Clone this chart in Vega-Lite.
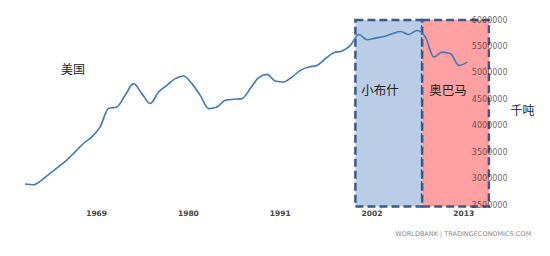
{
  "$schema": "https://vega.github.io/schema/vega-lite/v6.json",
  "width": 507,
  "height": 185,
  "autosize": {"type": "none"},
  "padding": {"left": 0, "top": 20, "right": 43, "bottom": 51},
  "background": "white",
  "title": {
    "text": "WORLDBANK | TRADINGECONOMICS.COM",
    "orient": "bottom",
    "anchor": "end",
    "fontSize": 6.5,
    "fontWeight": "normal",
    "color": "#8a8a8a",
    "font": "DejaVu Sans",
    "offset": 14,
    "dx": -3
  },
  "config": {
    "view": {"stroke": null},
    "text": {"font": "Noto Sans CJK SC"},
    "axis": {"labelOverlap": false, "labelBound": false, "labelFlush": false}
  },
  "datasets": {
    "emissions": [
      {"year": 1960, "kt": 2896000}, {"year": 1961, "kt": 2883000}, {"year": 1962, "kt": 2972000},
      {"year": 1963, "kt": 3098000}, {"year": 1964, "kt": 3223000}, {"year": 1965, "kt": 3349000},
      {"year": 1966, "kt": 3506000}, {"year": 1967, "kt": 3664000}, {"year": 1968, "kt": 3789000},
      {"year": 1969, "kt": 3977000}, {"year": 1970, "kt": 4324000}, {"year": 1971, "kt": 4355000},
      {"year": 1972, "kt": 4575000}, {"year": 1973, "kt": 4796000}, {"year": 1974, "kt": 4607000},
      {"year": 1975, "kt": 4419000}, {"year": 1976, "kt": 4638000}, {"year": 1977, "kt": 4764000},
      {"year": 1978, "kt": 4890000}, {"year": 1979, "kt": 4940000}, {"year": 1980, "kt": 4796000},
      {"year": 1981, "kt": 4575000}, {"year": 1982, "kt": 4324000}, {"year": 1983, "kt": 4355000},
      {"year": 1984, "kt": 4481000}, {"year": 1985, "kt": 4500000}, {"year": 1986, "kt": 4513000},
      {"year": 1987, "kt": 4702000}, {"year": 1988, "kt": 4909000}, {"year": 1989, "kt": 4972000},
      {"year": 1990, "kt": 4846000}, {"year": 1991, "kt": 4827000}, {"year": 1992, "kt": 4921000},
      {"year": 1993, "kt": 5047000}, {"year": 1994, "kt": 5110000}, {"year": 1995, "kt": 5141000},
      {"year": 1996, "kt": 5268000}, {"year": 1997, "kt": 5381000}, {"year": 1998, "kt": 5412000},
      {"year": 1999, "kt": 5519000}, {"year": 2000, "kt": 5726000}, {"year": 2001, "kt": 5626000},
      {"year": 2002, "kt": 5657000}, {"year": 2003, "kt": 5689000}, {"year": 2004, "kt": 5740000},
      {"year": 2005, "kt": 5783000}, {"year": 2006, "kt": 5726000}, {"year": 2007, "kt": 5802000},
      {"year": 2008, "kt": 5676000}, {"year": 2009, "kt": 5298000}, {"year": 2010, "kt": 5392000},
      {"year": 2011, "kt": 5362000}, {"year": 2012, "kt": 5141000}, {"year": 2013, "kt": 5204000}
    ],
    "terms": [
      {"president": "小布什", "start": 1999.6, "finish": 2007.6, "top": 6000000, "bottom": 2470000},
      {"president": "奥巴马", "start": 2007.6, "finish": 2015.6, "top": 6000000, "bottom": 2470000}
    ],
    "labels": [
      {"text": "美国", "year": 1965.75, "kt": 5047000, "size": 12},
      {"text": "小布什", "year": 2002.55, "kt": 4651000, "size": 12.5},
      {"text": "奥巴马", "year": 2010.7, "kt": 4651000, "size": 12.5}
    ]
  },
  "layer": [
    {
      "data": {"name": "terms"},
      "mark": {
        "type": "rect",
        "stroke": "#3b5a87",
        "strokeWidth": 2.5,
        "strokeDash": [8, 4],
        "fillOpacity": 1
      },
      "encoding": {
        "x": {
          "field": "start",
          "type": "quantitative",
          "scale": {"domain": [1957, 2017.77], "nice": false, "zero": false},
          "axis": {
            "title": null,
            "values": [1969, 1980, 1991, 2002, 2013],
            "tickCount": 20,
            "format": "d",
            "domain": false,
            "ticks": false,
            "grid": false,
            "labelPadding": 4,
            "labelOffset": -4,
            "labelOverlap": false,
            "labelFont": "DejaVu Sans",
            "labelFontSize": 7.5,
            "labelFontWeight": "bold",
            "labelColor": "#444444"
          }
        },
        "x2": {"field": "finish"},
        "y": {
          "field": "top",
          "type": "quantitative",
          "scale": {"domain": [2500000, 6000000], "nice": false, "zero": false},
          "axis": {
            "orient": "right",
            "title": "千吨",
            "titleAngle": 0,
            "titleX": 15,
            "titleY": 90,
            "titleAlign": "center",
            "titleBaseline": "middle",
            "titleFont": "Noto Sans CJK SC",
            "titleFontSize": 12,
            "titleFontWeight": "normal",
            "titleColor": "#222222",
            "values": [2500000, 3000000, 3500000, 4000000, 4500000, 5000000, 5500000, 6000000],
            "tickCount": 20,
            "format": "d",
            "domain": false,
            "ticks": false,
            "grid": false,
            "labelOverlap": false,
            "labelBound": false,
            "labelFlush": false,
            "labelAlign": "right",
            "labelBaseline": "middle",
            "labelPadding": 0,
            "labelFont": "DejaVu Sans",
            "labelFontSize": 8,
            "labelColor": "#3a2a2a",
            "labelOpacity": 0.75,
            "zindex": 1
          }
        },
        "y2": {"field": "bottom"},
        "fill": {
          "field": "president",
          "type": "nominal",
          "scale": {"domain": ["小布什", "奥巴马"], "range": ["#bacde6", "#ffa0a3"]},
          "legend": null
        }
      }
    },
    {
      "data": {"name": "emissions"},
      "mark": {"type": "line", "interpolate": "monotone", "color": "#3f7ab5", "strokeWidth": 1.6},
      "encoding": {
        "x": {"field": "year", "type": "quantitative", "title": null},
        "y": {"field": "kt", "type": "quantitative", "title": "千吨"}
      }
    },
    {
      "data": {"name": "labels"},
      "mark": {"type": "text", "align": "center", "baseline": "middle", "color": "#222222"},
      "encoding": {
        "x": {"field": "year", "type": "quantitative", "title": null},
        "y": {"field": "kt", "type": "quantitative", "title": "千吨"},
        "text": {"field": "text"},
        "size": {"field": "size", "type": "quantitative", "scale": null}
      }
    }
  ]
}
